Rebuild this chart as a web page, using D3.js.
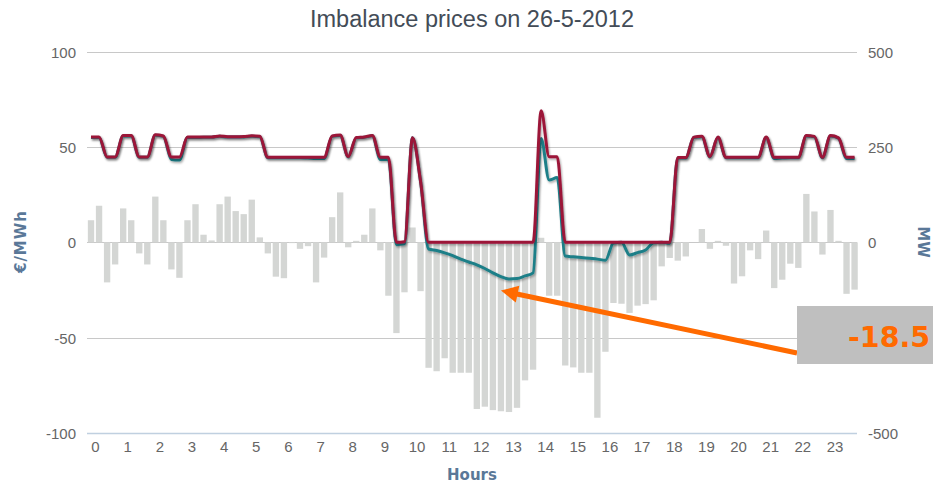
<!DOCTYPE html>
<html>
<head>
<meta charset="utf-8">
<script src="https://cdn.jsdelivr.net/npm/d3@7"></script>
<style>
  html, body { margin: 0; padding: 0; background: #ffffff; }
  svg { display: block; }
</style>
</head>
<body>
<svg id="chart" width="933" height="486"></svg>
<script>
// ---------------- DATA ----------------
const chartTitle = "Imbalance prices on 26-5-2012";
const hourLabels = d3.range(0, 24);            // 0 .. 23
const leftTicks = [-100, -50, 0, 50, 100];     // €/MWh
const rightTicks = [-500, -250, 0, 250, 500];  // MW

// Imbalance volume per quarter hour (MW, right axis), 96 quarters
const volumeMW = [
   58,  96,-105, -58,  89,  58, -29, -58, 120,  58, -71, -93,
   58, 100,  20,   5, 100, 120,  82,  74, 112,  13, -29, -90,
  -94,  -2, -17, -10,-105, -40,  66, 131, -13,   4,  20,  89,
  -21,-140,-238,-131,  39,-128,-329,-338,-304,-342,-342,-342,
 -437,-431,-440,-443,-445,-434,-362,-334,  12,-140,-140,-323,
 -328,-342,-342,-460,-287,-159,-161,-185,-166,-162,-152, -63,
  -41, -48, -37,   0,  35, -17,   4,  -9,-108, -89, -21, -44,
   31,-120, -98, -56, -67, 127,  81, -32,  85,   4,-135,-124
];

// Price for upward regulation / shortage (€/MWh, dark red line)
const priceUp = [
  55.3, 55.3, 44.8, 44.8, 56.0, 56.0, 44.8, 44.8, 56.4, 55.8, 44.8, 44.8,
  55.2, 55.2, 55.3, 55.3, 55.8, 55.4, 55.4, 55.5, 55.9, 55.6, 44.6, 44.6,
  44.6, 44.6, 44.6, 44.6, 44.6, 44.6, 55.8, 56.3, 45.0, 55.0, 55.3, 56.1,
  44.6, 44.6,  0.0,  0.3, 54.8, 32.0,  0.0,  0.0,  0.0,  0.0,  0.0,  0.0,
   0.0,  0.0,  0.0,  0.0,  0.0,  0.0,  0.0,  0.0, 69.0, 44.9, 44.9,  0.0,
   0.0,  0.0,  0.0,  0.0,  0.0,  0.0,  0.0,  0.0,  0.0,  0.0,  0.0,  0.0,
   0.0, 44.5, 44.5, 55.2, 55.6, 45.0, 55.2, 44.6, 44.6, 44.6, 44.6, 44.6,
  55.2, 44.6, 44.6, 44.6, 44.6, 56.0, 55.6, 44.6, 56.0, 54.8, 44.6, 44.6
];

// Price for downward regulation / surplus (€/MWh, teal line)
const priceDown = [
  55.0, 55.0, 44.6, 44.6, 55.8, 55.8, 44.6, 44.6, 56.2, 55.6, 43.5, 43.2,
  55.0, 55.0, 55.1, 55.1, 55.6, 55.2, 55.2, 55.3, 55.7, 55.4, 44.4, 44.4,
  44.4, 44.4, 44.4, 44.2, 44.0, 44.0, 55.6, 56.1, 44.8, 54.8, 55.1, 55.9,
  43.5, 43.5, -1.2, -0.8, 54.8, 32.0, -3.5, -4.3, -5.5, -7.0, -8.8,-10.3,
 -11.8,-13.7,-16.0,-18.0,-19.2,-19.0,-17.6,-16.0, 54.5, 32.7, 34.0, -7.2,
  -7.6, -8.0, -8.4, -8.8, -9.4, -0.3,  0.0, -6.6, -5.4, -4.0, -0.2,  0.0,
  -0.5, 44.3, 44.3, 55.0, 55.4, 44.8, 55.0, 44.4, 44.4, 44.4, 44.4, 44.4,
  55.0, 44.0, 44.2, 44.4, 44.4, 55.8, 55.4, 44.4, 55.8, 54.6, 44.0, 44.0
];

const annotationValue = -18.5;   // lowest surplus price highlighted
const annotationIndex = 51;      // quarter the arrow points to

// ---------------- LAYOUT ----------------
const svg = d3.select("#chart");
const W = 933, H = 486;
const plotLeft = 87, plotRight = 857, plotTop = 51.7, plotBottom = 433;

const x = d3.scaleLinear().domain([-0.25, 23.75]).range([plotLeft, 858.6]);
const yL = d3.scaleLinear().domain([-100, 100]).range([plotBottom, plotTop]);
const yR = d3.scaleLinear().domain([-500, 500]).range([plotBottom, plotTop]);
const tOf = i => i / 4 - 0.125;   // centre of quarter i in hours
const quarterW = x(0.25) - x(0);
const barW = quarterW * 0.79;

const tickFont = "'Liberation Sans', Arial, sans-serif";
const titleFont = "'DejaVu Sans', Verdana, sans-serif";

// annotation box geometry (overlay, covers part of the right axis)
const box = { x: 797, y: 306, w: 140, h: 58 };

svg.append("rect").attr("width", W).attr("height", H).attr("fill", "#ffffff");

const defs = svg.append("defs");
const f = defs.append("filter").attr("id", "shadow")
  .attr("filterUnits", "userSpaceOnUse")
  .attr("x", 0).attr("y", 0).attr("width", W).attr("height", H);
f.append("feDropShadow").attr("dx", 1).attr("dy", 1.5)
  .attr("stdDeviation", 1.2).attr("flood-color", "#000").attr("flood-opacity", 0.35);

// Title
svg.append("text")
  .attr("x", 472).attr("y", 27)
  .attr("text-anchor", "middle")
  .attr("font-family", tickFont)
  .attr("font-size", 23.5)
  .attr("fill", "#434c57")
  .text(chartTitle);

// Grid lines
svg.append("g").selectAll("line")
  .data(leftTicks.filter(d => d !== -100))
  .join("line")
  .attr("x1", plotLeft).attr("x2", plotRight)
  .attr("y1", d => Math.round(yL(d)) + 0.5).attr("y2", d => Math.round(yL(d)) + 0.5)
  .attr("stroke", "#c8c8c8").attr("stroke-width", 1);

// x axis line
svg.append("line")
  .attr("x1", plotLeft).attr("x2", plotRight)
  .attr("y1", Math.round(yL(-100)) + 0.5).attr("y2", Math.round(yL(-100)) + 0.5)
  .attr("stroke", "#c0d0e0").attr("stroke-width", 1.5);

// Left axis
const fmt = d => String(d).replace("\u2212", "-");
const gL = svg.append("g")
  .attr("transform", `translate(${76},0)`)
  .call(d3.axisLeft(yL).tickValues(leftTicks).tickSize(0).tickPadding(0).tickFormat(fmt));
gL.select(".domain").remove();
gL.selectAll("text")
  .attr("font-family", tickFont).attr("font-size", 15).attr("fill", "#666666")
  .attr("dy", "0.36em");

// Right axis (labels hidden under the annotation box are not drawn, as in the picture)
const visibleRight = rightTicks.filter(d => {
  const yy = yR(d);
  return !(yy > box.y && yy < box.y + box.h);
});
const gR = svg.append("g")
  .attr("transform", `translate(${868},0)`)
  .call(d3.axisRight(yR).tickValues(visibleRight).tickSize(0).tickPadding(0).tickFormat(fmt));
gR.select(".domain").remove();
gR.selectAll("text")
  .attr("font-family", tickFont).attr("font-size", 15).attr("fill", "#666666")
  .attr("dy", "0.36em");

// Bottom axis
const gB = svg.append("g")
  .attr("transform", `translate(0,${441})`)
  .call(d3.axisBottom(x).tickValues(hourLabels).tickSize(0).tickPadding(0).tickFormat(d => d));
gB.select(".domain").remove();
gB.selectAll("text")
  .attr("font-family", tickFont).attr("font-size", 15).attr("fill", "#666666")
  .attr("dy", "0.71em");

// Axis titles
svg.append("text")
  .attr("transform", `translate(25.5,242) rotate(-90)`)
  .attr("text-anchor", "middle")
  .attr("font-family", titleFont).attr("font-weight", "bold")
  .attr("font-size", 15).attr("fill", "#5a7898")
  .attr("textLength", 62).attr("lengthAdjust", "spacing")
  .text("€/MWh");
svg.append("text")
  .attr("transform", `translate(917.5,242) rotate(90)`)
  .attr("text-anchor", "middle")
  .attr("font-family", titleFont).attr("font-weight", "bold")
  .attr("font-size", 15).attr("fill", "#5a7898")
  .text("MW");
svg.append("text")
  .attr("x", 472).attr("y", 479.5)
  .attr("text-anchor", "middle")
  .attr("font-family", titleFont).attr("font-weight", "bold")
  .attr("font-size", 15).attr("fill", "#5a7898")
  .text("Hours");

// Bars
svg.append("g").selectAll("rect")
  .data(volumeMW)
  .join("rect")
  .attr("x", (d, i) => x(tOf(i)) - barW / 2)
  .attr("width", barW)
  .attr("y", d => Math.min(yR(d), yR(0)))
  .attr("height", d => Math.abs(yR(d) - yR(0)))
  .attr("fill", "#d4d6d4");

// Lines
const line = d3.line()
  .x((d, i) => x(tOf(i)))
  .y(d => yL(d))
  .curve(d3.curveMonotoneX);

svg.append("path")
  .datum(priceDown)
  .attr("d", line)
  .attr("fill", "none")
  .attr("stroke", "#1f7f88")
  .attr("stroke-width", 3)
  .attr("stroke-linejoin", "round")
  .attr("filter", "url(#shadow)");

svg.append("path")
  .datum(priceUp)
  .attr("d", line)
  .attr("fill", "none")
  .attr("stroke", "#9c1539")
  .attr("stroke-width", 3)
  .attr("stroke-linejoin", "round")
  .attr("filter", "url(#shadow)");

// Annotation (arrow + label box)
const tipX = x(tOf(annotationIndex));
const tipY = yL(annotationValue) + 13;
const endX = box.x, endY = 353;
const len = Math.hypot(endX - tipX, endY - tipY);
const ux = (endX - tipX) / len, uy = (endY - tipY) / len;
const headL = 17, headW = 8.5;
const ann = svg.append("g");
ann.append("line")
  .attr("x1", tipX + ux * (headL - 2)).attr("y1", tipY + uy * (headL - 2))
  .attr("x2", endX).attr("y2", endY)
  .attr("stroke", "#ff6a00").attr("stroke-width", 5);
ann.append("polygon")
  .attr("points", [
    [tipX, tipY],
    [tipX + ux * headL - uy * headW, tipY + uy * headL + ux * headW],
    [tipX + ux * headL + uy * headW, tipY + uy * headL - ux * headW]
  ].map(p => p.join(",")).join(" "))
  .attr("fill", "#ff6a00");
ann.append("rect")
  .attr("x", box.x).attr("y", box.y)
  .attr("width", box.w).attr("height", box.h)
  .attr("fill", "#bfbfbf");
ann.append("text")
  .attr("x", 848).attr("y", 347)
  .attr("font-family", titleFont).attr("font-weight", "bold")
  .attr("font-size", 28.5).attr("fill", "#ff6a00")
  .text(String(annotationValue));
</script>
</body>
</html>
